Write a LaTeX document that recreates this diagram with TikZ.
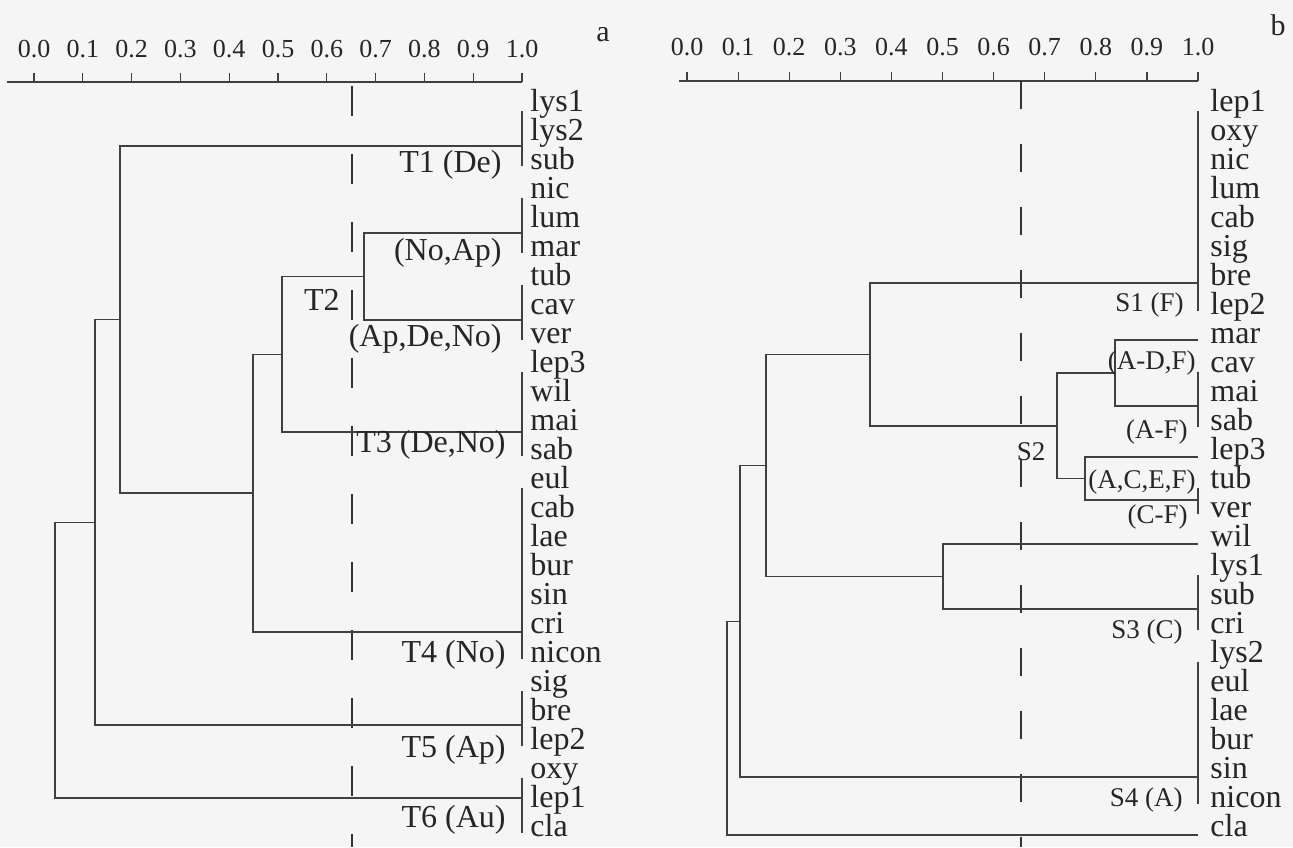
\documentclass[tikz,border=0pt]{standalone}
\usepackage{fontspec}
\setmainfont{Liberation Serif}

\begin{document}
\begin{tikzpicture}[
    x=0.5pt, y=-0.5pt,
    every node/.style={inner sep=0pt, text=black!85},
    leaf/.style={anchor=mid west, font=\fontsize{16}{16}\selectfont},
    % cluster labels of the two trees
    grp/.style={anchor=east, font=\fontsize{16}{16}\selectfont},
    grpb/.style={anchor=east, font=\fontsize{13.5}{13.5}\selectfont},
    axlbl/.style={anchor=base, font=\fontsize{13}{13}\selectfont},
    panel/.style={anchor=mid, font=\fontsize{15}{15}\selectfont},
    tree/.style={line width=0.7pt, black!75},
    tick/.style={line width=0.6pt, black!75},
    cuta/.style={line width=1.1pt, black!80, dash pattern=on 15pt off 19pt},
    cutb/.style={line width=1.1pt, black!80, dash pattern=on 14pt off 17.5pt},
]
    \useasboundingbox (0,0) rectangle (1293,847);
    \fill[black!4] (0,0) rectangle (1293,847);

    % similarity scales
    \draw[tick] (7,82) -- (522,82);
    \draw[tick] (679,81) -- (1198,81);
    \foreach \t/\v in {0/0.0,1/0.1,2/0.2,3/0.3,4/0.4,5/0.5,6/0.6,7/0.7,8/0.8,9/0.9,10/1.0} {
      \draw[tick] ({34+48.8*\t},82) -- ++(0,-9);
      \node[axlbl] (xa\t) at ({34+48.8*\t},57) {\v};
      \draw[tick] ({687+51.1*\t},81) -- ++(0,-9);
      \node[axlbl] (xb\t) at ({687+51.1*\t},55) {\v};
    }
    \node[panel] (pa) at (603,37) {a};
    \node[panel] (pb) at (1278,31) {b};

    % cut-off lines
    \draw[cuta] (352,86) -- (352,847);
    \draw[cutb] (1021,81) -- (1021,847);

    % leaves
    \foreach \lf [count=\i from 0] in {lys1,lys2,sub,nic,lum,mar,tub,cav,ver,lep3,wil,mai,sab,eul,cab,lae,bur,sin,cri,nicon,sig,bre,lep2,oxy,lep1,cla}
      \node[leaf] (la\i) at (530,{107+29*\i}) {\lf};
    \foreach \lf [count=\i from 0] in {lep1,oxy,nic,lum,cab,sig,bre,lep2,mar,cav,mai,sab,lep3,tub,ver,wil,lys1,sub,cri,lys2,eul,lae,bur,sin,nicon,cla}
      \node[leaf] (lb\i) at (1210,{107+29*\i}) {\lf};

    % groups joined at 1.0
    \foreach \a/\b in {0/2,3/5,6/8,9/12,13/19,20/22,23/25}
      \draw[tree] ([shift={(-4pt,-2pt)}]la\a.mid west) -- ([shift={(-4pt,-0.5pt)}]la\b.mid west);
    \foreach \a/\b in {0/7,9/11,13/14,16/18,19/24}
      \draw[tree] ([shift={(-6pt,-2pt)}]lb\a.mid west) -- ([shift={(-6pt,-0.5pt)}]lb\b.mid west);

    % tree a
    \coordinate (c1) at (522,146);
    \coordinate (c2) at (522,233);
    \coordinate (c3) at (522,320);
    \coordinate (c4) at (522,432);
    \coordinate (c5) at (522,632);
    \coordinate (c6) at (522,725);
    \coordinate (c7) at (522,798);
    \coordinate (n1) at (364,276.5);
    \coordinate (n2) at (282,354.3);
    \coordinate (n3) at (253,493.1);
    \coordinate (n4) at (120,319.6);
    \coordinate (n5) at (95,522.3);
    \coordinate (n6) at (55,660.1);
    \foreach \p/\q in {n1/c2,n1/c3,n2/n1,n2/c4,n3/n2,n3/c5,n4/c1,n4/n3,n5/n4,n5/c6,n6/n5,n6/c7}
      \draw[tree] (\p) |- (\q);

    % tree b
    \coordinate (d1) at (1198,283);
    \coordinate (d2) at (1198,340);
    \coordinate (d3) at (1198,406);
    \coordinate (d4) at (1198,457);
    \coordinate (d5) at (1198,500);
    \coordinate (d6) at (1198,544);
    \coordinate (d7) at (1198,609);
    \coordinate (d8) at (1198,777);
    \coordinate (d9) at (1198,835);
    \coordinate (m1) at (1115,373);
    \coordinate (m2) at (1085,478.5);
    \coordinate (m3) at (1057,425.8);
    \coordinate (m4) at (870,354.4);
    \coordinate (m5) at (943,576.5);
    \coordinate (m6) at (766,465.5);
    \coordinate (m7) at (740,621.2);
    \coordinate (m8) at (727,728.1);
    \foreach \p/\q in {m1/d2,m1/d3,m2/d4,m2/d5,m3/m1,m3/m2,m4/d1,m4/m3,m5/d6,m5/d7,m6/m4,m6/m5,m7/m6,m7/d8,m8/m7,m8/d9}
      \draw[tree] (\p) |- (\q);

    % cluster labels
    \node[grp] (gT1) at (502,165) {T1 (De)};
    \node[grp] (gNoAp) at (502,253) {(No,Ap)};
    \node[grp] (gT2) at (340,300) {T2};
    \node[grp] (gApDeNo) at (502,339) {(Ap,De,No)};
    \node[grp] (gT3) at (506,445) {T3 (De,No)};
    \node[grp] (gT4) at (506,655) {T4 (No)};
    \node[grp] (gT5) at (506,750) {T5 (Ap)};
    \node[grp] (gT6) at (506,820) {T6 (Au)};

    \node[grpb] (gS1) at (1184,305) {S1 (F)};
    \node[grpb] (gAD) at (1196,363) {(A-D,F)};
    \node[grpb] (gAF) at (1188,432) {(A-F)};
    \node[grpb, anchor=center] (gS2) at (1031,452) {S2};
    \node[grpb] (gACEF) at (1196,482) {(A,C,E,F)};
    \node[grpb] (gCF) at (1188,517) {(C-F)};
    \node[grpb] (gS3) at (1183,632) {S3 (C)};
    \node[grpb] (gS4) at (1183,800) {S4 (A)};
\end{tikzpicture}
\end{document}
